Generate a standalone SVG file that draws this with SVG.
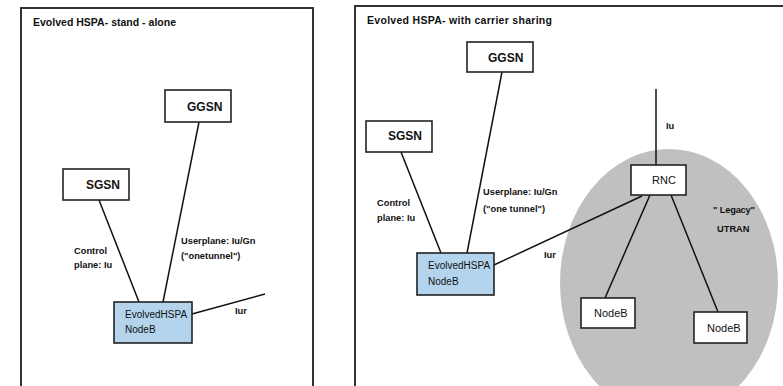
<svg xmlns="http://www.w3.org/2000/svg" width="783" height="386" viewBox="0 0 783 386">
  <style>
    .frame { fill: #ffffff; stroke: #333333; stroke-width: 2; }
    .box { fill: #ffffff; stroke: #222222; stroke-width: 1.6; }
    .enb { fill: #b4d4ee; stroke: #222222; stroke-width: 1.6; }
    .link { stroke: #111111; stroke-width: 1.5; fill: none; }
    text { font-family: "Liberation Sans", Arial, sans-serif; fill: #111111; }
    .title { font-size: 10.5px; font-weight: bold; }
    .core { font-size: 12px; font-weight: bold; }
    .lbl { font-size: 9.3px; font-weight: bold; }
    .nb { font-size: 10px; }
    .small { font-size: 11px; }
  </style>

  <!-- panel frames -->
  <g id="panel-standalone">
    <rect class="frame" x="21" y="8" width="292" height="400"/>
    <text class="title" x="33" y="26" textLength="143">Evolved HSPA- stand - alone</text>
  </g>
  <g id="panel-shared">
    <rect class="frame" x="355" y="6" width="440" height="402"/>
    <text class="title" x="367" y="24" textLength="185">Evolved HSPA- with  carrier  sharing</text>
  </g>

  <!-- legacy UTRAN area -->
  <g id="utran-area">
    <ellipse cx="669" cy="283" rx="109" ry="134" fill="#c0c0c0"/>
    <text class="lbl" x="713" y="213" font-size="10" textLength="42">" Legacy"</text>
    <text class="lbl" x="717" y="232" font-size="11">UTRAN</text>
  </g>

  <!-- connectors -->
  <g id="connectors">
    <line class="link" x1="199" y1="122" x2="163" y2="302"/>
    <line class="link" x1="99" y1="200" x2="139" y2="302"/>
    <line class="link" x1="192" y1="314" x2="265" y2="294"/>

    <line class="link" x1="502" y1="72" x2="467" y2="253"/>
    <line class="link" x1="401" y1="152" x2="441" y2="253"/>
    <line class="link" x1="494" y1="265" x2="642" y2="196"/>
    <line class="link" x1="656" y1="89" x2="656" y2="165"/>
    <line class="link" x1="650" y1="195" x2="605" y2="298"/>
    <line class="link" x1="671" y1="195" x2="718" y2="312"/>
  </g>

  <!-- connector labels -->
  <g id="labels">
    <text class="lbl" x="74" y="254">Control</text>
    <text class="lbl" x="74" y="268">plane: Iu</text>
    <text class="lbl" x="181" y="244">Userplane: Iu/Gn</text>
    <text class="lbl" x="181" y="259">("onetunnel")</text>
    <text class="lbl" x="235" y="314">Iur</text>

    <text class="lbl" x="377" y="206">Control</text>
    <text class="lbl" x="377" y="221">plane: Iu</text>
    <text class="lbl" x="483" y="195">Userplane: Iu/Gn</text>
    <text class="lbl" x="483" y="212">("one tunnel")</text>
    <text class="lbl" x="544" y="258">Iur</text>
    <text class="lbl" x="666" y="129">Iu</text>
  </g>

  <!-- stand-alone nodes -->
  <g id="ggsn-1">
    <rect class="box" x="165" y="90" width="66" height="32"/>
    <text class="core" x="187" y="111">GGSN</text>
  </g>
  <g id="sgsn-1">
    <rect class="box" x="63" y="169" width="66" height="31"/>
    <text class="core" x="86" y="189">SGSN</text>
  </g>
  <g id="enodeb-1">
    <rect class="enb" x="114" y="302" width="78" height="41"/>
    <text class="nb" x="125" y="318">EvolvedHSPA</text>
    <text class="nb" x="125" y="333">NodeB</text>
  </g>

  <!-- carrier sharing nodes -->
  <g id="ggsn-2">
    <rect class="box" x="467" y="42" width="66" height="30"/>
    <text class="core" x="488" y="62">GGSN</text>
  </g>
  <g id="sgsn-2">
    <rect class="box" x="366" y="121" width="66" height="31"/>
    <text class="core" x="388" y="140">SGSN</text>
  </g>
  <g id="enodeb-2">
    <rect class="enb" x="417" y="253" width="77" height="42"/>
    <text class="nb" x="428" y="269">EvolvedHSPA</text>
    <text class="nb" x="428" y="285">NodeB</text>
  </g>
  <g id="rnc">
    <rect class="box" x="631" y="165" width="55" height="30"/>
    <text class="small" x="652" y="184" font-size="11.5">RNC</text>
  </g>
  <g id="nodeb-a">
    <rect class="box" x="581" y="298" width="54" height="30"/>
    <text class="small" x="594" y="317">NodeB</text>
  </g>
  <g id="nodeb-b">
    <rect class="box" x="694" y="312" width="53" height="31"/>
    <text class="small" x="707" y="332">NodeB</text>
  </g>
</svg>
